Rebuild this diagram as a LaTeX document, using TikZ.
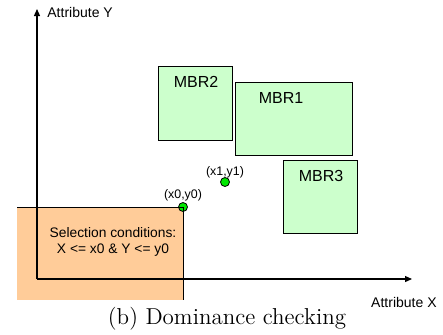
\documentclass[tikz,border=0pt]{standalone}
\usepackage{fontspec}
\newfontfamily\arialfont{Liberation Sans}
\usetikzlibrary{positioning, calc, arrows.meta}

\definecolor{mbrgreen}{RGB}{204,255,204}
\definecolor{selorange}{RGB}{255,204,153}
\definecolor{dotgreen}{RGB}{0,230,0}

\tikzset{
    mbr/.style={draw, fill=mbrgreen, line width=0.5pt, inner sep=0pt, outer sep=0pt},
    mbrtext/.style={font=\arialfont\fontsize{8}{9}\selectfont, inner sep=0pt},
    axis/.style={line width=0.6pt, -{Triangle[length=3.5pt, width=3pt]}},
    axistext/.style={font=\arialfont\fontsize{7}{8}\selectfont, inner sep=0pt},
    dot/.style={draw, circle, fill=dotgreen, line width=0.4pt, inner sep=0pt, minimum size=4.5pt},
    dottext/.style={font=\arialfont\fontsize{6.2}{7}\selectfont, inner sep=0pt},
}

\begin{document}
\begin{tikzpicture}[x=0.5pt, y=-0.5pt]
    \useasboundingbox (0,0) rectangle (443,334);

    % selection region
    \coordinate (selTL) at (17,207);
    \coordinate (selBR) at (183,300);
    \fill[selorange] (selTL) rectangle (selBR);

    % axes
    \coordinate (origin) at (37,279);
    \coordinate (xend) at (412,279);
    \coordinate (yend) at (37,9);
    \draw[axis] (origin) -- (xend);
    \draw[axis] (origin) -- (yend);
    \node[axistext, anchor=west] (ylabel) at ($(yend)+(10,3)$) {Attribute Y};
    \node[axistext, anchor=east] (xlabel) at ($(xend)+(25,23)$) {Attribute X};

    \node[dot] (p0) at (183,207) {};
    \draw[line width=0.5pt] (selTL) -- (p0.center) -- (selBR);
    \node[font=\arialfont\fontsize{6.9}{8.2}\selectfont, align=center, inner sep=0pt] (cond) at (113,242)
        {Selection conditions:\\X <= x0 \& Y <= y0};

    % bounding boxes
    \node[mbr, minimum width=37pt, minimum height=37pt] (mbr2) at (195,103) {};
    \node[mbr, minimum width=58.5pt, minimum height=36.5pt] (mbr1) at (293.5,118.5) {};
    \node[mbr, minimum width=37pt, minimum height=36.5pt] (mbr3) at (320,196.5) {};
    \node[mbrtext] at ($(mbr2.north)+(1,15.5)$) {MBR2};
    \node[mbrtext] at ($(mbr1.north)+(-12.5,15.5)$) {MBR1};
    \node[mbrtext] at ($(mbr3.north)+(1,15.5)$) {MBR3};

    % points
    \node[dot] (p1) at (225,182) {};
    \node[dottext] at ($(p0)+(0,-12)$) {(x0,y0)};
    \node[dottext] at ($(p1)+(0,-10)$) {(x1,y1)};

    \node[font=\fontsize{11.5}{13}\selectfont, inner sep=0pt] (caption) at (227,319) {(b) Dominance checking};
\end{tikzpicture}
\end{document}
